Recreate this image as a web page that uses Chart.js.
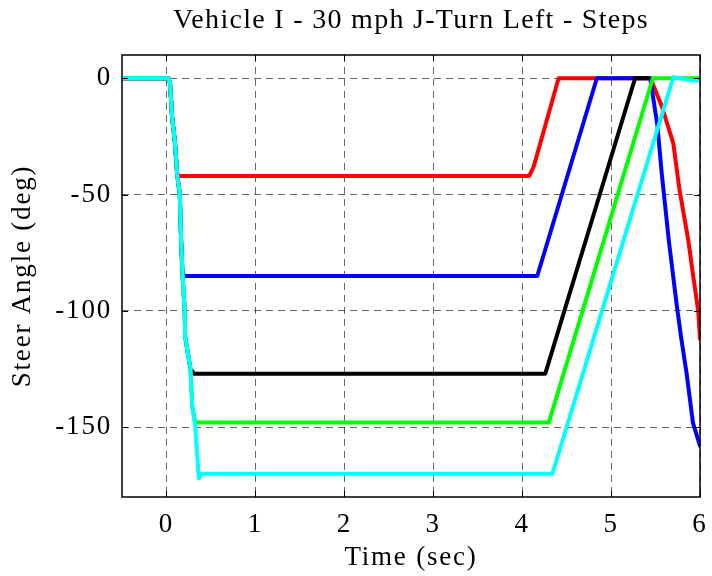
<!DOCTYPE html>
<html>
<head>
<meta charset="utf-8">
<script src="https://cdn.jsdelivr.net/npm/chart.js@4/dist/chart.umd.min.js"></script>
<style>
html,body{margin:0;padding:0;background:#fff;}
#wrap{width:712px;height:576px;}
</style>
</head>
<body>
<div id="wrap"><canvas id="c" width="712" height="576"></canvas></div>
<script>
const chartTitle = "Vehicle I - 30 mph J-Turn Left - Steps";
const xAxisTitle = "Time (sec)";
const yAxisTitle = "Steer Angle (deg)";
const xTickValues = [0, 1, 2, 3, 4, 5, 6];
const yTickValues = [0, -50, -100, -150];

const timeRed  = [-0.5, 0.02, 0.04, 0.064, 0.094, 0.12, 0.14, 4.08, 4.13, 4.41, 5.45, 5.475, 5.57, 5.70, 5.77, 5.87, 5.92, 5.98, 6.0];
const angleRed = [0, 0, -2, -17, -27, -41, -42, -42, -38, 0, 0, -3, -12, -28, -48, -70, -84, -100, -112];

const timeBlue  = [-0.5, 0.02, 0.04, 0.064, 0.094, 0.12, 0.15, 0.165, 0.18, 0.21, 4.17, 4.84, 5.44, 5.48, 5.52, 5.57, 5.65, 5.74, 5.79, 5.85, 5.92, 6.0];
const angleBlue = [0, 0, -2, -17, -27, -41, -50, -70, -84, -85, -85, 0, 0, -10, -20, -41, -70, -98, -112, -127, -148, -158];

const timeBlack  = [-0.5, 0.02, 0.04, 0.064, 0.094, 0.12, 0.15, 0.165, 0.18, 0.205, 0.21, 0.27, 0.31, 4.26, 5.27, 5.42];
const angleBlack = [0, 0, -2, -17, -27, -41, -50, -70, -84, -100, -111, -125, -127, -127, 0, 0];

const timeGreen  = [-0.5, 0.02, 0.04, 0.064, 0.094, 0.12, 0.15, 0.165, 0.18, 0.205, 0.21, 0.27, 0.29, 0.325, 0.355, 4.30, 5.47, 6.0];
const angleGreen = [0, 0, -2, -17, -27, -41, -50, -70, -84, -100, -111, -125, -141, -148, -148, -148, 0, 0];

const timeCyan  = [-0.5, 0.02, 0.04, 0.064, 0.094, 0.12, 0.15, 0.165, 0.18, 0.205, 0.21, 0.27, 0.29, 0.325, 0.36, 0.365, 0.40, 4.34, 5.70, 5.78, 5.90, 6.0];
const angleCyan = [0, 0, -2, -17, -27, -41, -50, -70, -84, -100, -111, -125, -141, -150, -170, -172, -170, -170, 0.5, 0, -1, -1];

function pts(t, a) { return t.map((v, i) => ({ x: v, y: a[i] })); }

function ds(t, a, color, order) {
  return {
    data: pts(t, a),
    borderColor: color,
    backgroundColor: color,
    borderWidth: 4,
    pointRadius: 0,
    pointHoverRadius: 0,
    tension: 0,
    fill: false,
    showLine: true,
    order: order,
    borderJoinStyle: 'round',
    borderCapStyle: 'round'
  };
}

const spacingPlugin = {
  id: 'spacingPlugin',
  beforeDraw(chart) {
    chart.ctx.letterSpacing = '1.8px';
  }
};

const boxPlugin = {
  id: 'boxPlugin',
  afterDatasetsDraw(chart) {
    const ctx = chart.ctx;
    const a = chart.chartArea;
    const xs = chart.scales.x, ys = chart.scales.y;
    ctx.save();
    ctx.strokeStyle = '#000';
    ctx.lineWidth = 1.5;
    ctx.setLineDash([]);
    ctx.strokeRect(a.left, a.top, a.right - a.left, a.bottom - a.top);
    ctx.lineWidth = 1;
    const tl = 6;
    ctx.beginPath();
    xTickValues.forEach(v => {
      const px = Math.round(xs.getPixelForValue(v)) + 0.5;
      ctx.moveTo(px, a.bottom); ctx.lineTo(px, a.bottom - tl);
      ctx.moveTo(px, a.top); ctx.lineTo(px, a.top + tl);
    });
    yTickValues.forEach(v => {
      const py = Math.round(ys.getPixelForValue(v)) + 0.5;
      ctx.moveTo(a.left, py); ctx.lineTo(a.left + tl, py);
      ctx.moveTo(a.right, py); ctx.lineTo(a.right - tl, py);
    });
    ctx.stroke();
    // title
    ctx.fillStyle = '#000';
    ctx.letterSpacing = '1.3px';
    ctx.font = '28px "Liberation Serif", "Times New Roman", serif';
    ctx.textAlign = 'center';
    ctx.textBaseline = 'middle';
    ctx.fillText(chartTitle, (a.left + a.right) / 2, 21);
    ctx.restore();
  }
};

const fontTick = { family: '"Liberation Serif", "Times New Roman", serif', size: 27 };

new Chart(document.getElementById('c'), {
  type: 'scatter',
  data: {
    datasets: [
      ds(timeRed, angleRed, '#ff0000', 5),
      ds(timeBlue, angleBlue, '#0000ff', 4),
      ds(timeBlack, angleBlack, '#000000', 3),
      ds(timeGreen, angleGreen, '#00ff00', 2),
      ds(timeCyan, angleCyan, '#00ffff', 1)
    ]
  },
  options: {
    responsive: false,
    animation: false,
    devicePixelRatio: 1,
    layout: { padding: { left: 0, right: 12, top: 55, bottom: 0 } },
    plugins: {
      legend: { display: false },
      tooltip: { enabled: false },
      title: { display: false }
    },
    scales: {
      x: {
        type: 'linear',
        min: -0.5,
        max: 6,
        afterBuildTicks: s => { s.ticks = xTickValues.map(v => ({ value: v })); },
        afterFit: s => { s.height = 79; s.paddingLeft = 0; s.paddingRight = 0; },
        ticks: { color: '#000', font: fontTick, padding: 12, maxRotation: 0, autoSkip: false, callback: v => String(v) },
        grid: { color: 'rgba(0,0,0,0.6)', lineWidth: 1, drawTicks: false },
        border: { display: false, dash: [7, 5] },
        title: { display: true, text: xAxisTitle, color: '#000', font: fontTick, padding: { top: 0, bottom: 2 } }
      },
      y: {
        type: 'linear',
        min: -180,
        max: 10,
        afterBuildTicks: s => { s.ticks = yTickValues.map(v => ({ value: v })); },
        afterFit: s => { s.width = 122; s.paddingTop = 0; s.paddingBottom = 0; },
        ticks: { color: '#000', font: fontTick, padding: 10, autoSkip: false, callback: v => String(v) },
        grid: { color: 'rgba(0,0,0,0.6)', lineWidth: 1, drawTicks: false },
        border: { display: false, dash: [7, 5] },
        title: { display: true, text: yAxisTitle, color: '#000', font: fontTick, padding: { top: 7, bottom: 0 } }
      }
    }
  },
  plugins: [spacingPlugin, boxPlugin]
});
</script>
</body>
</html>
